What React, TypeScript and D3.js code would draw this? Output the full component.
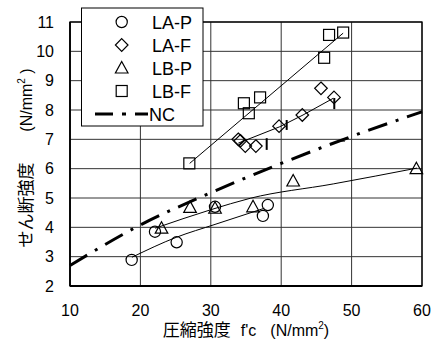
import React from "react";
import * as d3 from "d3";

const xTicks = [10, 20, 30, 40, 50, 60];
const yTicks = [2, 3, 4, 5, 6, 7, 8, 9, 10, 11];

const laP: [number, number][] = [[18.76, 2.89], [22.07, 3.85], [25.15, 3.49], [30.6, 4.7], [37.4, 4.39], [38.1, 4.76]];
const laF: [number, number][] = [[33.9, 7.0], [34.2, 6.95], [34.9, 6.77], [36.4, 6.77], [39.7, 7.45], [43.0, 7.83], [45.65, 8.74], [47.5, 8.43]];
const lbP: [number, number][] = [[23.0, 3.97], [27.05, 4.68], [30.6, 4.65], [36.0, 4.7], [41.7, 5.58], [59.2, 6.0]];
const lbF: [number, number][] = [[26.95, 6.18], [34.7, 8.23], [35.4, 7.89], [37.0, 8.43], [46.1, 9.78], [46.8, 10.56], [48.8, 10.64]];

const laPFit: [number, number][] = [[18.8, 2.98], [25.1, 3.66], [30.6, 4.1], [37.6, 4.65]];
const laFFit: [number, number][] = [[33.9, 6.87], [39.8, 7.43], [43.1, 7.83], [47.4, 8.4]];
const lbPFit: [number, number][] = [[22.1, 3.97], [30, 4.6], [35.6, 4.99], [47.4, 5.48], [59.3, 6.02]];
const lbFFit: [number, number][] = [[27, 6.18], [48.8, 10.62]];

const ncX = [10, 20, 30, 40, 50, 60];
const ncY = [2.7, 4.08, 5.18, 6.18, 7.1, 7.94];

const vMarks: [number, number, number][] = [[37.94, 6.64, 7.04], [40.78, 7.32, 7.66], [47.54, 8.03, 8.41]];
const hMarks: [number, number, number][] = [[48.35, 49.06, 6.94]];

const legendLabels = ["LA-P", "LA-F", "LB-P", "LB-F", "NC"];

const W = 444, H = 341;
const LAT = "'Liberation Sans', Arial, sans-serif";
const CJK = "'Noto Sans CJK JP', 'Liberation Sans', sans-serif";

type Shape = "circle" | "diamond" | "triangle" | "square";

function Marker({ shape, cx, cy }: { shape: Shape; cx: number; cy: number }) {
  const common = { fill: "none", stroke: "#000", strokeWidth: 1.2 };
  if (shape === "circle") return <circle cx={cx} cy={cy} r={5.6} {...common} />;
  if (shape === "square") return <rect x={cx - 5.5} y={cy - 5.5} width={11} height={11} {...common} />;
  if (shape === "diamond")
    return <path d={`M${cx},${cy - 6.3}L${cx + 6.3},${cy}L${cx},${cy + 6.3}L${cx - 6.3},${cy}Z`} {...common} />;
  return <path d={`M${cx},${cy - 6.5}L${cx + 6.3},${cy + 5}L${cx - 6.3},${cy + 5}Z`} {...common} />;
}

export default function App() {
  const x = d3.scaleLinear().domain([10, 60]).range([70, 422]);
  const y = d3.scaleLinear().domain([2, 11]).range([286, 22]);
  const line = d3.line<[number, number]>().x((d) => x(d[0])).y((d) => y(d[1]));
  const curve = d3.line<[number, number]>().x((d) => x(d[0])).y((d) => y(d[1])).curve(d3.curveMonotoneX);
  const ncData: [number, number][] = ncX.map((v, i) => [v, ncY[i]]);

  const series: { data: [number, number][]; shape: Shape }[] = [
    { data: laP, shape: "circle" },
    { data: laF, shape: "diamond" },
    { data: lbP, shape: "triangle" },
    { data: lbF, shape: "square" },
  ];
  const shapes: Shape[] = ["circle", "diamond", "triangle", "square"];
  const legX = 81.5, legY = 8, legW = 121.5, legH = 118;
  const rowY = (i: number) => 22 + i * 23;

  return (
    <svg width={W} height={H} style={{ position: "absolute", left: 0, top: 0, background: "#fff" }}>
      <rect x={0} y={0} width={W} height={H} fill="#fff" />
      {/* grid */}
      {yTicks.map((t) => (
        <line key={"gy" + t} x1={x(10)} x2={x(60)} y1={y(t)} y2={y(t)} stroke="#333" strokeWidth={1} />
      ))}
      {xTicks.map((t) => (
        <line key={"gx" + t} x1={x(t)} x2={x(t)} y1={y(2)} y2={y(11)} stroke="#333" strokeWidth={1} />
      ))}
      <rect x={x(10)} y={y(11)} width={x(60) - x(10)} height={y(2) - y(11)} fill="none" stroke="#000" strokeWidth={1.3} />
      <line x1={x(10)} x2={x(60)} y1={y(2)} y2={y(2)} stroke="#000" strokeWidth={2} />
      <line x1={x(10)} x2={x(10)} y1={y(2)} y2={y(11)} stroke="#000" strokeWidth={1.6} />

      {/* NC */}
      <path d={curve(ncData) || ""} fill="none" stroke="#000" strokeWidth={3} strokeDasharray="20,9,3,9" />

      {/* fits */}
      <path d={curve(laPFit) || ""} fill="none" stroke="#000" strokeWidth={1} />
      <path d={line(laFFit) || ""} fill="none" stroke="#000" strokeWidth={1} />
      <path d={curve(lbPFit) || ""} fill="none" stroke="#000" strokeWidth={1} />
      <path d={line(lbFFit) || ""} fill="none" stroke="#000" strokeWidth={1} />

      {vMarks.map((m, i) => (
        <line key={"vm" + i} x1={x(m[0])} x2={x(m[0])} y1={y(m[1])} y2={y(m[2])} stroke="#000" strokeWidth={2} />
      ))}
      {hMarks.map((m, i) => (
        <line key={"hm" + i} x1={x(m[0])} x2={x(m[1])} y1={y(m[2])} y2={y(m[2])} stroke="#000" strokeWidth={1} />
      ))}

      {series.map((s, si) =>
        s.data.map((d, i) => <Marker key={si + "-" + i} shape={s.shape} cx={x(d[0])} cy={y(d[1])} />)
      )}

      {/* ticks labels */}
      {yTicks.map((t) => (
        <text key={"yl" + t} x={54} y={y(t) + 5.8} textAnchor="end" fontFamily={LAT} fontSize={16} fill="#000">
          {t}
        </text>
      ))}
      {xTicks.map((t) => (
        <text key={"xl" + t} x={x(t)} y={315.5} textAnchor="middle" fontFamily={LAT} fontSize={16} fill="#000">
          {t}
        </text>
      ))}

      {/* x title */}
      <text x={246} y={336} textAnchor="middle" fontSize={16} fill="#000">
        <tspan fontFamily={CJK} fontSize={17}>圧縮強度</tspan>
        <tspan fontFamily={LAT} dx={10}>f'c</tspan>
        <tspan fontFamily={LAT} dx={14}>(N/mm</tspan>
        <tspan fontFamily={LAT} fontSize={10} dy={-7}>2</tspan>
        <tspan fontFamily={LAT} dy={7}>)</tspan>
      </text>

      {/* y title */}
      <g transform="translate(32,205) rotate(-90)">
        <text x={0} y={0} textAnchor="middle" fontFamily={CJK} fontSize={17} fill="#000">せん断強度</text>
      </g>
      <g transform="translate(32,100) rotate(-90)">
        <text x={0} y={0} textAnchor="middle" fontFamily={LAT} fontSize={16} fill="#000">
          <tspan>(N/mm</tspan>
          <tspan fontSize={10} dy={-7}>2</tspan>
          <tspan dy={7}> )</tspan>
        </text>
      </g>

      {/* legend */}
      <rect x={legX} y={legY} width={legW} height={legH} fill="#fff" stroke="#000" strokeWidth={1} />
      {shapes.map((s, i) => (
        <Marker key={"lg" + i} shape={s} cx={121.7} cy={rowY(i)} />
      ))}
      <line x1={95} x2={148} y1={rowY(4)} y2={rowY(4)} stroke="#000" strokeWidth={3} strokeDasharray="18,9,4,9" />
      {legendLabels.map((l, i) => (
        <text key={"lt" + i} x={i === 4 ? 149 : 152} y={rowY(i) + 6.5} fontFamily={LAT} fontSize={18} fill="#000">
          {l}
        </text>
      ))}
    </svg>
  );
}
